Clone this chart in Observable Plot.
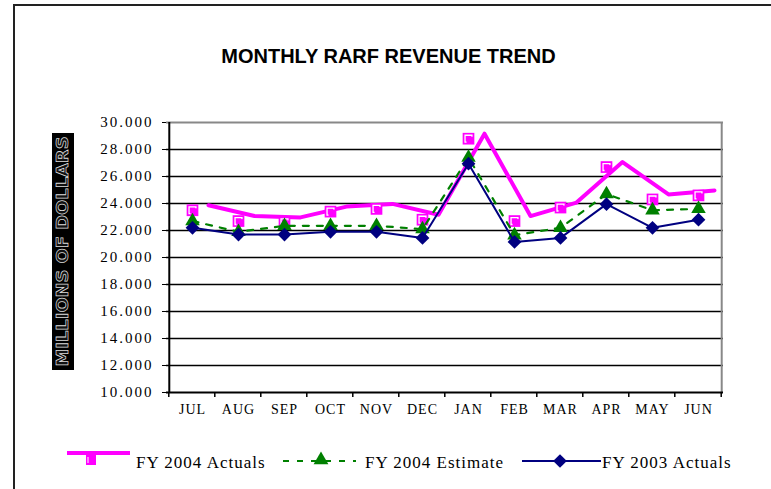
<!DOCTYPE html>
<html><head><meta charset="utf-8">
<script src="https://cdn.jsdelivr.net/npm/d3@7"></script>
<script src="https://cdn.jsdelivr.net/npm/@observablehq/plot@0.6"></script>
<style>body{margin:0;background:#fff}</style>
</head><body><div id="chart"></div>
<script>
const months = ["JUL","AUG","SEP","OCT","NOV","DEC","JAN","FEB","MAR","APR","MAY","JUN"];
const fy2004Actuals  = [23.5, 22.7, 22.6, 23.4, 23.6, 22.8, 28.8, 22.7, 23.7, 26.7, 24.3, 24.6];
const fy2004Estimate = [22.7, 21.9, 22.35, 22.35, 22.35, 22.1, 27.4, 21.65, 22.2, 24.7, 23.5, 23.6];
const fy2003Actuals  = [22.2, 21.7, 21.7, 21.9, 21.9, 21.45, 26.95, 21.15, 21.45, 23.95, 22.2, 22.8];
const yTicks = [10, 12, 14, 16, 18, 20, 22, 24, 26, 28, 30];
const seriesNames = ["FY 2004 Actuals", "FY 2004 Estimate", "FY 2003 Actuals"];
const titleText = "MONTHLY RARF REVENUE TREND";
const yLabelText = "MILLIONS OF DOLLARS";

const rows = vals => months.map((m, i) => ({month: m, value: vals[i]}));
const a04 = rows(fy2004Actuals), e04 = rows(fy2004Estimate), a03 = rows(fy2003Actuals);

const W = 771, H = 489, ml = 166, mr = 48, mt = 122, mb = 97;
const step = (W - ml - mr) / months.length;
const MAG = "#ff00ff", GRN = "#008000", NAV = "#000080";

const plot = Plot.plot({
  width: W, height: H, marginLeft: ml, marginRight: mr, marginTop: mt, marginBottom: mb,
  style: {background: "white", fontFamily: "'Liberation Serif','Times New Roman',serif", fontSize: "15px", color: "#000", overflow: "visible"},
  x: {type: "point", domain: months, padding: 0.5, axis: null},
  y: {domain: [10, 30], axis: null},
  marks: [
    Plot.ruleY(yTicks.filter(v => v > 10 && v < 30), {stroke: "#000", strokeWidth: 1.3}),
    Plot.ruleY([30], {stroke: "#888", strokeWidth: 2}),
    Plot.ruleX([months[months.length - 1]], {dx: step / 2, stroke: "#888", strokeWidth: 2}),
    Plot.ruleX([months[0]], {dx: -step / 2, stroke: "#000", strokeWidth: 2}),
    Plot.ruleY([10], {stroke: "#000", strokeWidth: 2}),
    Plot.axisY({ticks: yTicks, tickFormat: d => d.toFixed(3), tickSize: 4, tickPadding: 9, fontSize: 15, label: null}),
    Plot.text(months, {x: d => d, frameAnchor: "bottom", dy: 21, fontSize: 14}),
    Plot.line(a04, {x: "month", y: "value", stroke: MAG, strokeWidth: 4, dx: 16, dy: -5}),
    Plot.dot(a04, {x: "month", y: "value", symbol: "square", r: 6.6, fill: MAG}),
    Plot.dot(a04, {x: "month", y: "value", symbol: "square", r: 3.9, fill: "none", stroke: "white", strokeWidth: 1.3}),
    Plot.dot(a04, {x: "month", y: "value", symbol: "square", r: 3.9, fill: MAG, dx: 1.5, dy: 1.5}),
    Plot.line(e04, {x: "month", y: "value", stroke: GRN, strokeWidth: 2.2, strokeDasharray: "6,8"}),
    Plot.dot(e04, {x: "month", y: "value", symbol: "triangle", r: 5.4, fill: GRN}),
    Plot.line(a03, {x: "month", y: "value", stroke: NAV, strokeWidth: 2}),
    Plot.dot(a03, {x: "month", y: "value", symbol: "diamond2", r: 6.2, fill: NAV})
  ]
});
document.getElementById("chart").appendChild(plot);

const svg = d3.select(plot);
svg.selectAll('g[aria-label="y-axis tick label"]').attr("letter-spacing", "2px");
svg.selectAll('g[aria-label="text"]').attr("letter-spacing", "1px");
const xs = plot.scale("x");
const yBottom = H - mb;
// category boundary ticks on the x axis
const gT = svg.append("g").attr("stroke", "#000").attr("stroke-width", 1.5);
months.forEach((m, i) => {
  const x0 = xs.apply(m) - step / 2;
  gT.append("line").attr("x1", x0).attr("x2", x0).attr("y1", yBottom).attr("y2", yBottom + 5);
  if (i === months.length - 1) gT.append("line").attr("x1", x0 + step).attr("x2", x0 + step).attr("y1", yBottom).attr("y2", yBottom + 5);
});
// outer frame (left and top)
svg.append("path").attr("d", `M14,${H} V5 H${W}`).attr("fill", "none").attr("stroke", "#222").attr("stroke-width", 2);
// title
svg.append("text").attr("x", 388.5).attr("y", 63).attr("text-anchor", "middle")
  .attr("font-family", "'Liberation Sans',Arial,sans-serif").attr("font-weight", "bold").attr("font-size", 20)
  .text(titleText);
// y label
svg.append("rect").attr("x", 52).attr("y", 133).attr("width", 22).attr("height", 237).attr("fill", "#000");
svg.append("text").attr("transform", "translate(63,251.5) rotate(-90)").attr("text-anchor", "middle").attr("dy", "0.36em")
  .attr("font-family", "'DejaVu Sans',sans-serif").attr("font-weight", "bold").attr("font-size", 15)
  .attr("textLength", 230).attr("lengthAdjust", "spacingAndGlyphs")
  .attr("fill", "#111").attr("stroke", "#ddd").attr("stroke-width", 0.7).text(yLabelText);
// legend
const lg = svg.append("g").attr("text-anchor", "start");
lg.append("line").attr("x1", 67).attr("x2", 130).attr("y1", 453).attr("y2", 453).attr("stroke", MAG).attr("stroke-width", 4);
lg.append("rect").attr("x", 86).attr("y", 455).attr("width", 10).attr("height", 10).attr("fill", MAG);
lg.append("line").attr("x1", 88).attr("x2", 88).attr("y1", 457).attr("y2", 463).attr("stroke", "white").attr("stroke-width", 1);
lg.append("line").attr("x1", 283).attr("x2", 356).attr("y1", 461).attr("y2", 461).attr("stroke", GRN).attr("stroke-width", 2.2).attr("stroke-dasharray", "6,8");
lg.append("path").attr("d", d3.symbol(d3.symbolTriangle, 95)()).attr("transform", "translate(321,460)").attr("fill", GRN);
lg.append("line").attr("x1", 522).attr("x2", 601).attr("y1", 461).attr("y2", 461).attr("stroke", NAV).attr("stroke-width", 2);
lg.append("path").attr("d", d3.symbol(d3.symbolDiamond2, 120)()).attr("transform", "translate(560,461)").attr("fill", NAV);
const lx = [136, 365, 602];
seriesNames.forEach((s, i) => {
  lg.append("text").attr("x", lx[i]).attr("y", 468).attr("text-anchor", "start")
    .attr("font-family", "'Liberation Serif','Times New Roman',serif")
    .attr("font-size", 17).attr("letter-spacing", "1px").attr("fill", "#000").text(s);
});
</script>
</body></html>
